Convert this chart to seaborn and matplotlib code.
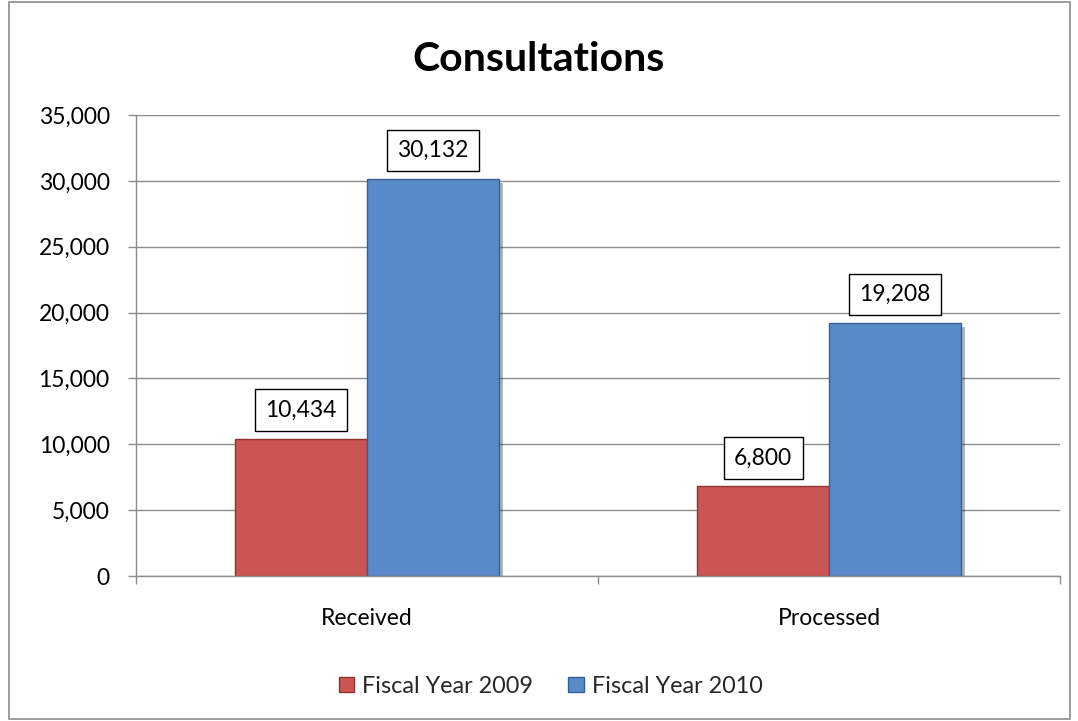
import matplotlib
matplotlib.use("Agg")
import matplotlib.pyplot as plt
import matplotlib.patheffects as pe
from matplotlib.patches import Rectangle
from matplotlib.ticker import FuncFormatter, MultipleLocator
import seaborn as sns
import pandas as pd

categories = ["Received", "Processed"]
series_names = ["Fiscal Year 2009", "Fiscal Year 2010"]
fy2009 = [10434, 6800]
fy2010 = [30132, 19208]
colors = ["#CB5552", "#588ACA"]
edge_colors = ["#8E3431", "#365E92"]

df = pd.DataFrame({
    "category": categories * 2,
    "series": [series_names[0]] * 2 + [series_names[1]] * 2,
    "value": fy2009 + fy2010,
})

sns.set_theme(style="white")
plt.rcParams["font.family"] = ["Lato", "DejaVu Sans"]

fig = plt.figure(figsize=(10.78, 7.21), dpi=100)
ax = fig.add_axes([0.1262, 0.2011, 0.8571, 0.6394])

sns.barplot(data=df, x="category", y="value", hue="series", order=categories,
            hue_order=series_names, palette=colors, width=0.57, ax=ax,
            saturation=1, legend=False, errorbar=None)

for i, cont in enumerate(ax.containers):
    for bar in cont:
        bar.set_edgecolor(edge_colors[i])
        bar.set_linewidth(1.0)
        bar.set_path_effects([pe.SimplePatchShadow(offset=(3, -3), alpha=0.35), pe.Normal()])
    ax.bar_label(cont, labels=[f"{v:,.0f}" for v in cont.datavalues], padding=13,
                 fontsize=16.5, color="black",
                 bbox=dict(boxstyle="square,pad=0.45", fc="white", ec="black", lw=1.0))

ax.set_ylim(0, 35000)
ax.set_xlim(-0.5, 1.5)
ax.yaxis.set_major_locator(MultipleLocator(5000))
ax.yaxis.set_major_formatter(FuncFormatter(lambda v, p: f"{v:,.0f}"))
ax.yaxis.grid(True, color="#8C8C8C", lw=1.0)
ax.set_axisbelow(True)
ax.set_xlabel("")
ax.set_ylabel("")
for s in ["top", "right"]:
    ax.spines[s].set_visible(False)
for s in ["left", "bottom"]:
    ax.spines[s].set_color("#8C8C8C")
    ax.spines[s].set_linewidth(1.0)

ax.tick_params(axis="y", left=True, length=6, width=1, color="#8C8C8C", labelsize=16.5,
               labelcolor="black", pad=13)
ax.tick_params(axis="x", bottom=False, labelsize=16.5, labelcolor="black", pad=17)
ax.set_xticks([-0.5, 0.5, 1.5], minor=True)
ax.tick_params(axis="x", which="minor", bottom=True, length=6, width=1, color="#8C8C8C")

fig.text(0.5, 0.918, "Consultations", ha="center", va="center", fontsize=29.5,
         fontweight="bold", color="black")

handles = [Rectangle((0, 0), 1, 1, fc=colors[i], ec=edge_colors[i]) for i in range(2)]
fig.legend(handles, series_names, loc="center", bbox_to_anchor=(0.511, 0.048), ncol=2,
           frameon=False, fontsize=16.8, handlelength=0.65, handleheight=0.65,
           handletextpad=0.35, columnspacing=1.5)

border = Rectangle((0.008, 0.003), 0.985, 0.994, transform=fig.transFigure,
                   fill=False, ec="#8C8C8C", lw=1.2)
fig.patches.append(border)

fig.savefig("out.png", dpi=100)
